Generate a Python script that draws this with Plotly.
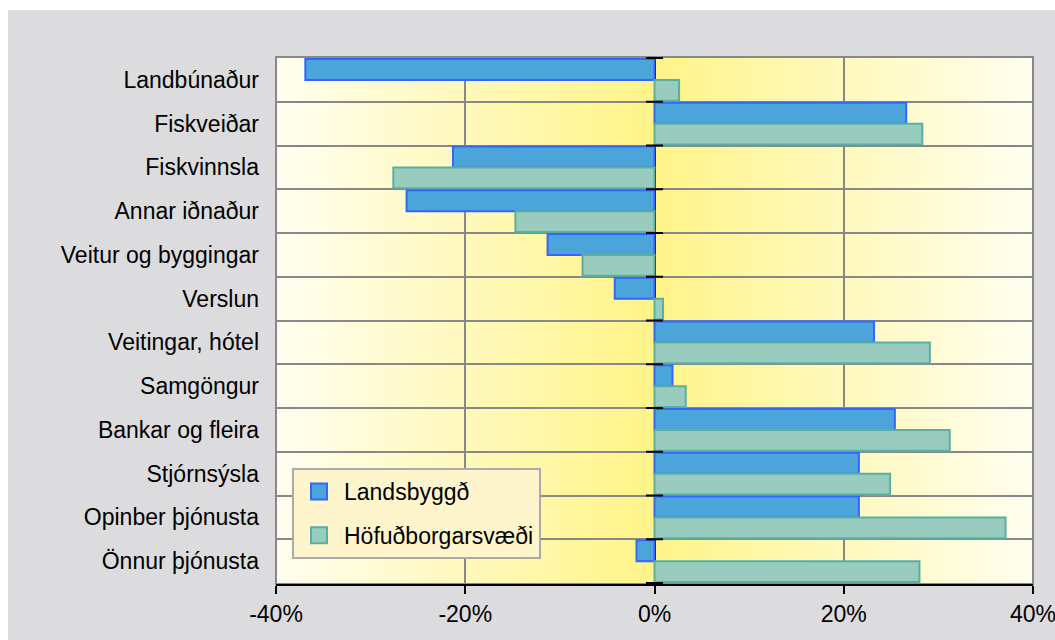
import plotly.graph_objects as go

categories = ["Landbúnaður", "Fiskveiðar", "Fiskvinnsla", "Annar iðnaður",
              "Veitur og byggingar", "Verslun", "Veitingar, hótel", "Samgöngur",
              "Bankar og fleira", "Stjórnsýsla", "Opinber þjónusta", "Önnur þjónusta"]
landsbyggd = [-36.9, 26.6, -21.3, -26.2, -11.3, -4.2, 23.2, 1.9, 25.4, 21.6, 21.6, -1.9]
hofudborg = [2.6, 28.3, -27.6, -14.7, -7.6, 0.9, 29.1, 3.3, 31.2, 24.9, 37.1, 28.0]
series_names = ["Landsbyggð", "Höfuðborgarsvæði"]
x_ticks = [-40, -20, 0, 20, 40]

FONT = "Liberation Sans, Arial, sans-serif"
BLUE_FILL, BLUE_LINE = "#4BA5DA", "#3366FF"
TEAL_FILL, TEAL_LINE = "#99CCBF", "#5AB0A0"

fig = go.Figure()
fig.add_trace(go.Bar(y=categories, x=landsbyggd, orientation="h", name=series_names[0],
                     showlegend=False,
                     marker=dict(color=BLUE_FILL, line=dict(color=BLUE_LINE, width=2))))
fig.add_trace(go.Bar(y=categories, x=hofudborg, orientation="h", name=series_names[1],
                     showlegend=False,
                     marker=dict(color=TEAL_FILL, line=dict(color=TEAL_LINE, width=2))))
# legend entries (larger square symbols)
for nm, fc, lc, grp in [(series_names[0], BLUE_FILL, BLUE_LINE, "a"),
                        (series_names[1], TEAL_FILL, TEAL_LINE, "b")]:
    fig.add_trace(go.Scatter(x=[None], y=[None], mode="markers", name=nm, legendgroup=grp,
                             marker=dict(symbol="square", size=16, color=fc,
                                         line=dict(color=lc, width=2))))

FW, FH = 1055, 640
L, R, T, B = 276, 22, 57, 56
W, H = FW - L - R, FH - T - B

shapes = []
# gray panel background (white strip at top/left as in the reference)
shapes.append(dict(type="rect", xref="paper", yref="paper",
                   x0=(8 - L) / W, x1=(FW - L) / W + 0.02,
                   y0=-B / H - 0.02, y1=1 + (T - 10) / H,
                   fillcolor="#DCDCDE", line=dict(width=0), layer="below"))
# gradient background
edge = (255, 254, 240)
mid = (255, 244, 136)
n = 160
step = 80 / n
for i in range(n):
    x0 = -40 + i * step
    t = abs(x0 + step / 2) / 40
    c = tuple(round(mid[k] + (edge[k] - mid[k]) * t) for k in range(3))
    shapes.append(dict(type="rect", xref="x", yref="paper", x0=max(-40, x0 - step * 0.3),
                       x1=min(40, x0 + step * 1.3), y0=0, y1=1,
                       fillcolor="rgb(%d,%d,%d)" % c, line=dict(width=0), layer="below"))

# plot border
shapes.append(dict(type="rect", xref="paper", yref="paper", x0=0, x1=1, y0=0, y1=1,
                   line=dict(color="#888888", width=2), layer="between"))
# small ticks on zero line at category boundaries
for k in range(len(categories) + 1):
    yb = k - 0.5
    shapes.append(dict(type="line", xref="x", yref="y", x0=-0.9, x1=0.9, y0=yb, y1=yb,
                       line=dict(color="black", width=2), layer="above"))

fig.update_layout(
    width=FW, height=FH,
    margin=dict(l=L, r=R, t=T, b=B, autoexpand=False),
    paper_bgcolor="white",
    plot_bgcolor="rgba(0,0,0,0)",
    barmode="group", bargap=0.05, bargroupgap=0,
    shapes=shapes,
    font=dict(family=FONT, color="black", size=23),
    legend=dict(x=(292 - L) / W, y=(FH - B - 468) / H, xanchor="left", yanchor="top",
                bgcolor="#FFF5CC", bordercolor="#AAAAAA", borderwidth=2,
                font=dict(size=23, family=FONT, color="black"),
                itemwidth=40, tracegroupgap=11),
    showlegend=True,
)
fig.update_xaxes(range=[-40, 40], tickvals=x_ticks, ticktext=[f"{v}%" for v in x_ticks],
                 showgrid=True, gridcolor="#888888", gridwidth=2,
                 zeroline=True, zerolinecolor="black", zerolinewidth=2,
                 showline=True, linecolor="black", linewidth=2,
                 ticks="outside", ticklen=8, tickwidth=2, tickcolor="black",
                 ticklabeloverflow="allow", automargin=False,
                 tickfont=dict(size=23, family=FONT, color="black"), fixedrange=True)
fig.update_yaxes(autorange="reversed", type="category", tickson="boundaries",
                 showgrid=True, gridcolor="#888888", gridwidth=2,
                 ticks="", ticklabelstandoff=16, automargin=False,
                 tickfont=dict(size=23, family=FONT, color="black"), fixedrange=True)

fig.write_html("out.html",
               config={"displayModeBar": False},
               post_script="document.body.style.margin='0';"
                           "document.documentElement.style.overflow='hidden';"
                           "document.body.style.overflow='hidden';")
